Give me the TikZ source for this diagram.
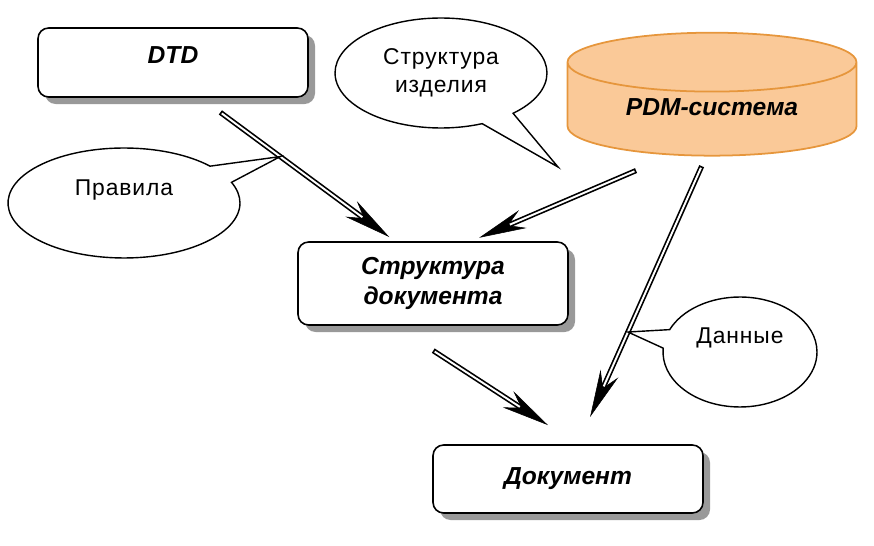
\documentclass[tikz,border=0pt]{standalone}
\usepackage{fontspec}
\setmainfont{Liberation Sans}
\newfontfamily\notefont[LetterSpace=4]{Liberation Sans}
\usetikzlibrary{arrows.meta,shapes.geometric,shapes.callouts,shadows}
\definecolor{pdmfill}{RGB}{250,201,152}
\definecolor{pdmline}{RGB}{230,150,60}

\begin{document}
\begin{tikzpicture}[x=0.02cm, y=-0.02cm,
	box/.style={draw, line width=0.9pt, rounded corners=6pt, fill=white, minimum width=5.4cm, align=center,
		font=\fontsize{14}{17}\selectfont\bfseries\itshape,
		drop shadow={shadow xshift=4pt, shadow yshift=-4pt, fill=black!40, opacity=1}},
	note/.style={ellipse callout, draw, line width=0.8pt, fill=white, align=center, callout pointer arc=20,
		font=\fontsize{13}{16}\notefont},
	flow/.style 2 args={line width=3pt, shorten <=#1, shorten >=#2,
		-{Stealth[length=27pt,width=11pt,inset=9pt,line width=0.3pt]},
		postaction={draw=white, line width=1.1pt, -, shorten <=#1+1pt, shorten >=#2+19pt}}]
	\useasboundingbox (0,0) rectangle (874,546);
	% boxes and database
	\node[box, minimum height=1.38cm, text depth=8pt] (dtd) at (173,62.5) {DTD};
	\node[box, minimum height=1.66cm] (sdoc) at (433,283.5) {Структура\\документа};
	\node[box, minimum height=1.36cm] (doc) at (568,479) {Документ};
	\node[cylinder, shape border rotate=90, aspect=0.32, draw=pdmline, line width=1pt, fill=pdmfill,
		minimum width=5.78cm, minimum height=2.46cm, text depth=7pt,
		font=\fontsize{14}{17}\selectfont\bfseries\itshape] (pdm) at (712,113.5) {PDM-система};
	% flows
	\draw[flow={14pt}{4pt}] (dtd.-52) -- coordinate[pos=0.41] (rul) (sdoc.132);
	\draw[flow={22pt}{5pt}] (pdm.-134) -- (sdoc.48);
	\draw[flow={6pt}{17pt}] (pdm.-98) -- coordinate[pos=0.61] (dat) (doc.74);
	\draw[flow={26pt}{20pt}] (sdoc.-132) -- (doc.75);
	% callouts
	\node[note, minimum width=4.24cm, minimum height=2.2cm, callout absolute pointer={(558,167)}] (izd) at (441,73) {Структура\\изделия};
	\node[note, minimum width=4.64cm, minimum height=2.2cm, text depth=18pt, callout absolute pointer=(rul)] (prav) at (124,203) {Правила};
	\node[note, minimum width=3.08cm, minimum height=2.2cm, text depth=19pt, callout absolute pointer=(dat)] (dann) at (740,352) {Данные};
\end{tikzpicture}
\end{document}
